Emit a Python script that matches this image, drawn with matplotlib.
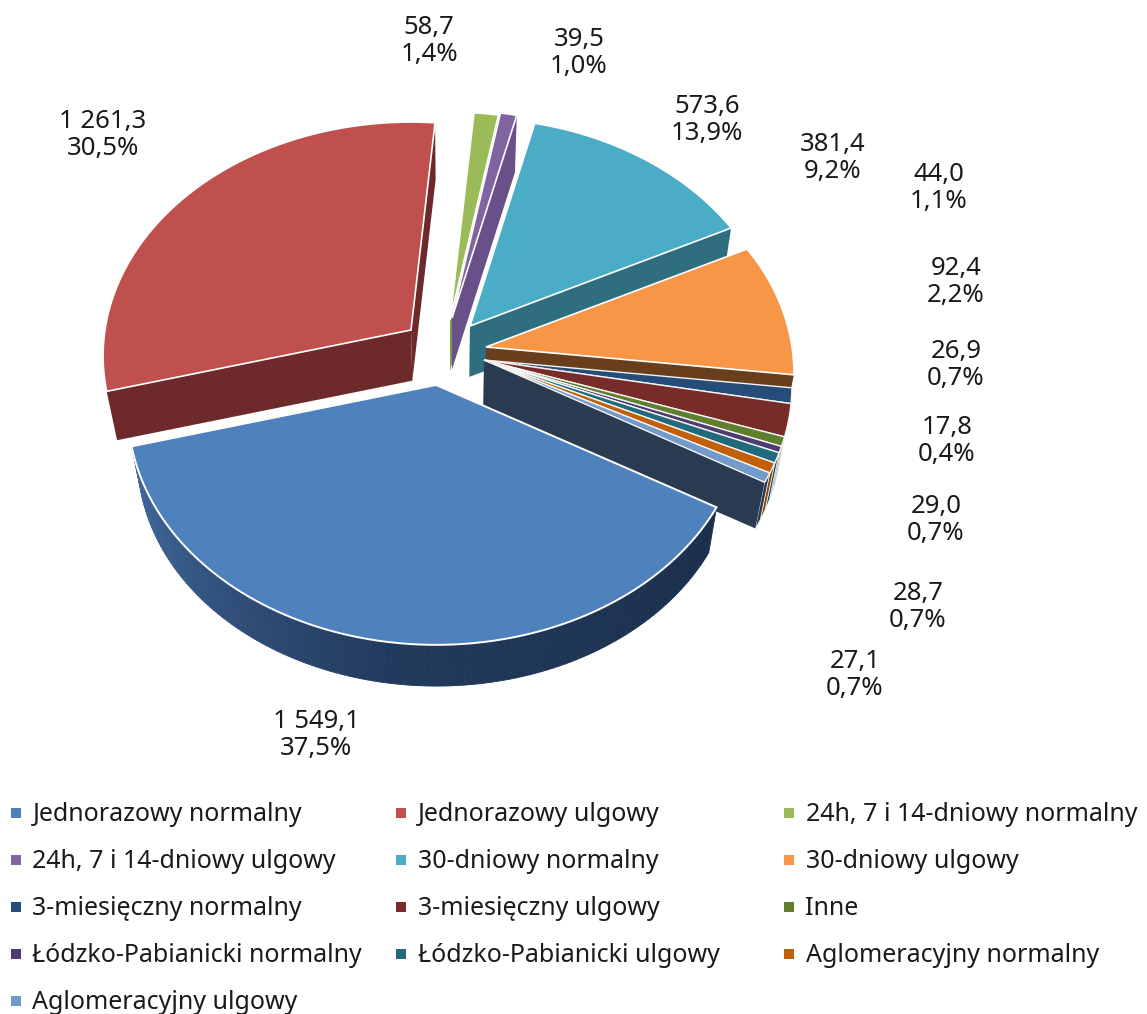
import numpy as np
import matplotlib
matplotlib.use("Agg")
import matplotlib.pyplot as plt
from matplotlib.patches import Polygon
from matplotlib.colors import to_rgb

categories = ["Jednorazowy normalny", "Jednorazowy ulgowy", "24h, 7 i 14-dniowy normalny",
              "24h, 7 i 14-dniowy ulgowy", "30-dniowy normalny", "30-dniowy ulgowy",
              "3-miesięczny normalny", "3-miesięczny ulgowy", "Inne",
              "Łódzko-Pabianicki normalny", "Łódzko-Pabianicki ulgowy", "Aglomeracyjny normalny",
              "Aglomeracyjny ulgowy"]
values = [1549.1, 1261.3, 58.7, 39.5, 573.6, 381.4, 44.0, 92.4, 26.9, 17.8, 29.0, 28.7, 27.1]
value_labels = ["1 549,1", "1 261,3", "58,7", "39,5", "573,6", "381,4", "44,0", "92,4",
                "26,9", "17,8", "29,0", "28,7", "27,1"]
percent_labels = ["37,5%", "30,5%", "1,4%", "1,0%", "13,9%", "9,2%", "1,1%", "2,2%",
                  "0,7%", "0,4%", "0,7%", "0,7%", "0,7%"]

top_colors = ["#4f81bd", "#c0504d", "#9bbb59", "#8064a2", "#4bacc6", "#f79646", "#264d7a",
              "#772c2a", "#5f7f2f", "#4d3b72", "#216a7c", "#c05f08", "#729aca"]
wall_colors = ["#2a4568", "#6e2a2a", "#7f9c48", "#6a5088", "#2f6e7f", "#693e1c", "#1c3a5e",
               "#5a2120", "#4a6225", "#3a2c56", "#1a5260", "#8f4606", "#2a3a50"]
# where each slice's tip sits after being pulled out of the pie
apex_x = [436, 411, 450, 452, 470, 486, 484, 484, 484, 484, 484, 484, 484]
apex_y = [385, 330, 320, 318, 326, 347, 360, 360, 360, 360, 360, 360, 360]
label_x = [316, 103, 429, 579, 707, 833, 939, 956, 956, 947, 936, 918, 855]
label_y = [735, 135, 41, 53, 120, 158, 188, 282, 365, 441, 520, 607, 675]

first_angle = 120.0
rx, ry, persp = 306.0, 231.0, 0.111
vanish = np.array([455.0, 2020.0])
depth = 0.03


def rim(angle, cx, cy):
    t = np.radians(angle)
    s = 1 / (1 + persp * np.cos(t))
    return np.column_stack([cx + rx * np.sin(t) * s, cy - ry * np.cos(t) * s])


def lower(pts):
    return pts + depth * (vanish - pts)


def shade(a, b, t):
    a, b = np.array(to_rgb(a)), np.array(to_rgb(b))
    return tuple(a + (b - a) * t)


plt.rcParams["font.family"] = ["Noto Sans", "DejaVu Sans"]
fig = plt.figure(figsize=(11.47, 10.14), dpi=100)
ax = fig.add_axes([0, 0, 1, 1])
ax.set_xlim(0, 1147)
ax.set_ylim(1014, 0)
ax.axis("off")

sweeps = np.array(values) / sum(values) * 360
starts = first_angle + np.concatenate([[0], np.cumsum(sweeps)[:-1]])

# back to front: red, then the clockwise run, the small group, blue last
order = [1, 2, 3, 4, 5]
for i in order:
    a0, a1 = starts[i], starts[i] + sweeps[i]
    apex = np.array([[apex_x[i], apex_y[i]]], dtype=float)
    arc = rim(np.linspace(a0, a1, 80), apex_x[i], apex_y[i])
    for p in (arc[0:1], arc[-1:]):
        wall = np.vstack([apex, p, lower(p), lower(apex)])
        ax.add_patch(Polygon(wall, fc=wall_colors[i], ec="none", zorder=2 + i))
    ax.add_patch(Polygon(np.vstack([apex, arc]), fc=top_colors[i], ec="white", lw=1.2, zorder=2 + i))

# small slices share a tip, walls go underneath the tops
small = list(range(6, 13))
for i in small:
    a0, a1 = starts[i], starts[i] + sweeps[i]
    arc = rim(np.linspace(a0, a1, 12), apex_x[i], apex_y[i])
    wall = np.vstack([arc, lower(arc)[::-1]])
    ax.add_patch(Polygon(wall, fc=wall_colors[i], ec="#f2f2f2", lw=0.5, zorder=10))
i = 12
apex = np.array([[apex_x[i], apex_y[i]]], dtype=float)
end = rim(np.array([starts[i] + sweeps[i]]), apex_x[i], apex_y[i])
ax.add_patch(Polygon(np.vstack([apex, end, lower(end), lower(apex)]), fc=wall_colors[i], ec="none", zorder=11))
for i in small:
    a0, a1 = starts[i], starts[i] + sweeps[i]
    apex = np.array([[apex_x[i], apex_y[i]]], dtype=float)
    arc = rim(np.linspace(a0, a1, 12), apex_x[i], apex_y[i])
    ax.add_patch(Polygon(np.vstack([apex, arc]), fc=top_colors[i], ec="#f4f4f4", lw=1.0, zorder=12))

# big front slice, wall goes dark towards the right
i = 0
a0, a1 = starts[i], starts[i] + sweeps[i]
angs = np.linspace(a0, a1, 121)
arc = rim(angs, apex_x[i], apex_y[i])
low = lower(arc)
for k in range(len(angs) - 1):
    t = k / (len(angs) - 2)
    if t < 0.5:
        col = shade("#1b2f4c", "#223a5c", t / 0.5)
    else:
        col = shade("#223a5c", "#41689c", (t - 0.5) / 0.5)
    quad = np.vstack([arc[k], arc[k + 1], low[k + 1], low[k]])
    ax.add_patch(Polygon(quad, fc=col, ec=col, lw=0.6, zorder=20))
apex = np.array([[apex_x[i], apex_y[i]]], dtype=float)
ax.add_patch(Polygon(np.vstack([apex, arc]), fc=top_colors[i], ec="white", lw=1.4, zorder=21))

for vl, pl, x, y in zip(value_labels, percent_labels, label_x, label_y):
    ax.text(x, y, vl + "\n" + pl, ha="center", va="center", fontsize=18.5, color="#1a1a1a",
            linespacing=1.08, zorder=30)

# legend written out row by row, 3 per row
legend_x = [16, 401, 789]
legend_y = [813, 860, 907, 954, 1001]
for n, name in enumerate(categories):
    x = legend_x[n % 3]
    y = legend_y[n // 3]
    ax.scatter([x], [y], marker="s", s=56, color=top_colors[n], linewidths=0, zorder=30)
    ax.text(x + 16.5, y + 1.5, name, ha="left", va="center", fontsize=18, color="#1a1a1a", zorder=30)

fig.savefig("out.png", dpi=100)
